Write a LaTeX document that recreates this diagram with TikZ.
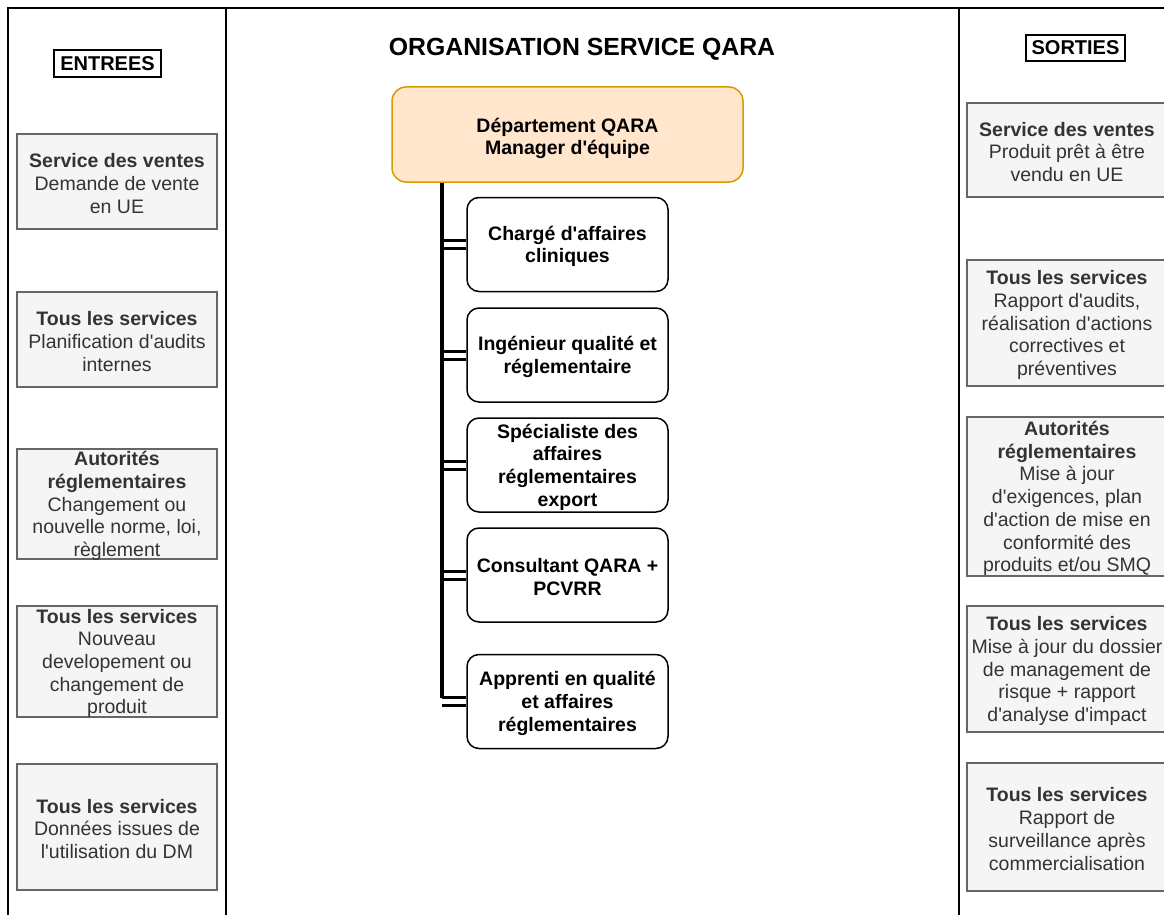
\documentclass[tikz,border=0pt]{standalone}
\usepackage{fontspec}
% Arial-metric face without TeX ligature mapping, so apostrophes stay straight
\newfontfamily\arialfont{Liberation Sans}
\definecolor{boxfill}{HTML}{F5F5F5}
\definecolor{boxline}{HTML}{666666}
\definecolor{boxtext}{HTML}{333333}
\definecolor{deptfill}{HTML}{FFE6CC}
\definecolor{deptline}{HTML}{D79B00}
\begin{document}
\begin{tikzpicture}[x=1pt,y=-1pt,
  frameline/.style={line width=2pt, draw=black},
  txt/.style={font=\arialfont\fontsize{19.5}{22.7}\selectfont, align=center, inner sep=0pt},
  iobox/.style={draw=boxline, fill=boxfill, line width=1.3pt, minimum width=200pt, inner sep=0pt},
  iotext/.style={txt, text=boxtext, yshift=-2pt},
  tagbox/.style={draw=black, line width=1.5pt, inner sep=0pt,
    font=\arialfont\bfseries\fontsize{20}{24}\selectfont},
  dept/.style={draw=deptline, fill=deptfill, line width=1.5pt, rounded corners=14pt,
    minimum width=351pt, minimum height=95pt},
  role/.style={draw=black, fill=white, line width=1.5pt, rounded corners=12pt,
    minimum width=201pt, minimum height=94pt},
  roletext/.style={txt, yshift=-2pt, font=\arialfont\bfseries\fontsize{19.5}{22.7}\selectfont},
  bus/.style={draw=black, line width=4pt},
  link/.style={draw=black, line width=3pt, double=white, double distance=5pt}
]
\useasboundingbox (0,0) rectangle (1164,915);
\fill[white] (0,0) rectangle (1164,915);

% swimlane frame
\coordinate (ftl) at (8,8);
\coordinate (ftr) at (1170,8);
\coordinate (fbl) at (8,920);
\coordinate (sepa) at (226,8);
\coordinate (sepab) at (226,920);
\coordinate (sepb) at (959,8);
\coordinate (sepbb) at (959,920);
\draw[frameline] (fbl) -- (ftl) -- (ftr);
\draw[frameline] (sepa) -- (sepab);
\draw[frameline] (sepb) -- (sepbb);

% headings
\node[font=\arialfont\bfseries\fontsize{24.8}{28}\selectfont] (title) at (582,49.5) {ORGANISATION SERVICE QARA};
\node[tagbox, minimum width=107pt, minimum height=27pt] (entrees) at (107.5,63.5) {ENTREES};
\node[tagbox, minimum width=99pt, minimum height=26pt] (sorties) at (1075.5,48) {SORTIES};

% inputs
\node[iobox, minimum height=95pt] (in1) at (117,181.5) {};
\node[iotext] (in1t) at (in1.center) {\textbf{Service des ventes}\\Demande de vente\\en UE};
\node[iobox, minimum height=95pt] (in2) at (117,339.5) {};
\node[iotext] (in2t) at (in2.center) {\textbf{Tous les services}\\Planification d'audits\\internes};
\node[iobox, minimum height=110pt] (in3) at (117,504) {};
\node[iotext] (in3t) at (in3.center) {\textbf{Autorités}\\\textbf{réglementaires}\\Changement ou\\nouvelle norme, loi,\\règlement};
\node[iobox, minimum height=111pt] (in4) at (117,661.5) {};
\node[iotext] (in4t) at (in4.center) {\textbf{Tous les services}\\Nouveau\\developement ou\\changement de\\produit};
\node[iobox, minimum height=126pt] (in5) at (117,827) {};
\node[iotext] (in5t) at (in5.center) {\textbf{Tous les services}\\Données issues de\\l'utilisation du DM};

% outputs
\node[iobox, minimum height=94pt] (out1) at (1067,150) {};
\node[iotext] (out1t) at (out1.center) {\textbf{Service des ventes}\\Produit prêt à être\\vendu en UE};
\node[iobox, minimum height=126pt] (out2) at (1067,323) {};
\node[iotext] (out2t) at (out2.center) {\textbf{Tous les services}\\Rapport d'audits,\\réalisation d'actions\\correctives et\\préventives};
\node[iobox, minimum height=159pt] (out3) at (1067,496.5) {};
\node[iotext] (out3t) at (out3.center) {\textbf{Autorités}\\\textbf{réglementaires}\\Mise à jour\\d'exigences, plan\\d'action de mise en\\conformité des\\produits et/ou SMQ};
\node[iobox, minimum height=126pt] (out4) at (1067,669) {};
\node[iotext] (out4t) at (out4.center) {\textbf{Tous les services}\\Mise à jour du dossier\\de management de\\risque + rapport\\d'analyse d'impact};
\node[iobox, minimum height=128pt] (out5) at (1067,827) {};
\node[iotext] (out5t) at (out5.center) {\textbf{Tous les services}\\Rapport de\\surveillance après\\commercialisation};

% organisation chart
\node[dept] (dept) at (567.5,134.5) {};
\node[roletext, yshift=-2pt] (deptt) at (dept.center) {Département QARA\\Manager d'équipe};
\node[role] (r1) at (567.5,244.5) {};
\node[roletext] (r1t) at (r1.center) {Chargé d'affaires\\cliniques};
\node[role] (r2) at (567.5,355) {};
\node[roletext] (r2t) at (r2.center) {Ingénieur qualité et\\réglementaire};
\node[role] (r3) at (567.5,465) {};
\node[roletext] (r3t) at (r3.center) {Spécialiste des\\affaires\\réglementaires\\export};
\node[role] (r4) at (567.5,575) {};
\node[roletext] (r4t) at (r4.center) {Consultant QARA +\\PCVRR};
\node[role] (r5) at (567.5,701.5) {};
\node[roletext] (r5t) at (r5.center) {Apprenti en qualité\\et affaires\\réglementaires};

\coordinate (bustop) at (442,182);
\coordinate (busend) at (442,698);
\foreach \r in {r1,r2,r3,r4,r5}
  \draw[link] (\r.west -| bustop) -- (\r.west);
\draw[bus] (bustop |- dept.south) -- (busend);
\end{tikzpicture}
\end{document}
